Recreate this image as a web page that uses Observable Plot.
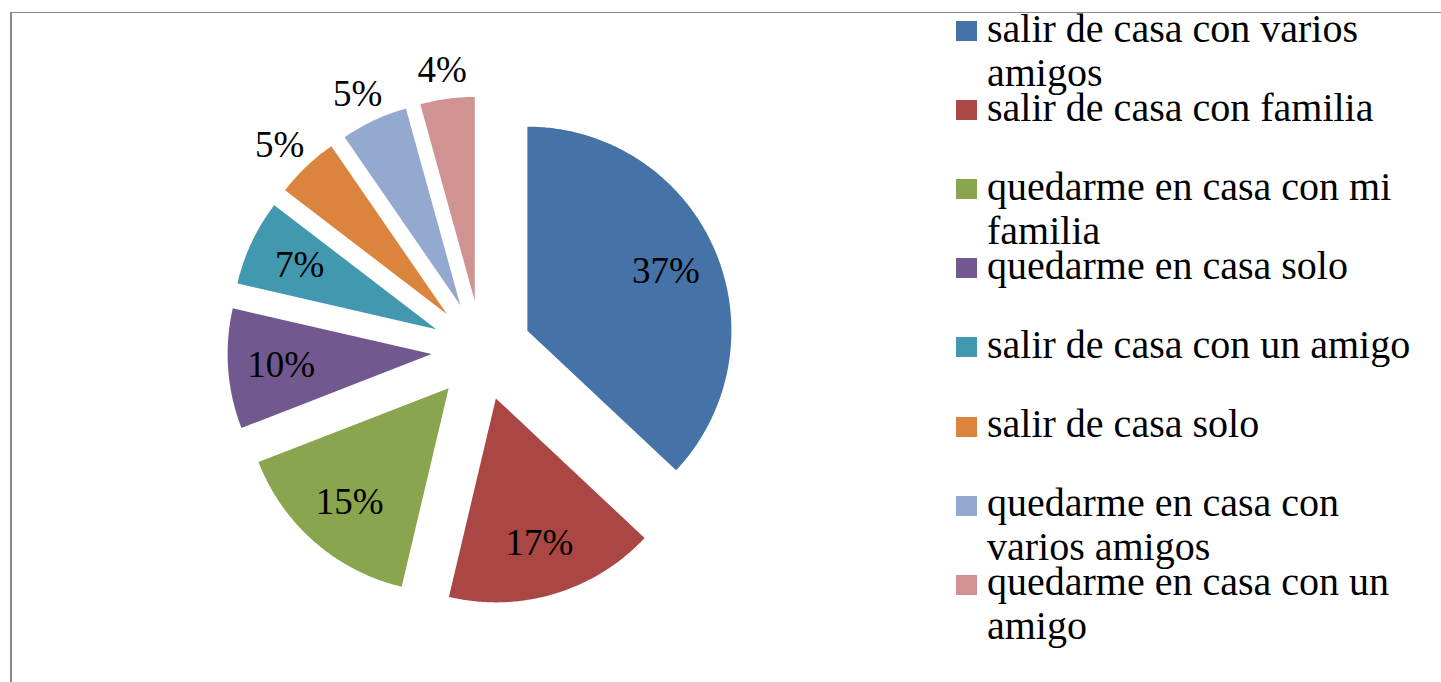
<!DOCTYPE html>
<html><head><meta charset="utf-8">
<script src="https://cdn.jsdelivr.net/npm/d3@7"></script>
<script src="https://cdn.jsdelivr.net/npm/@observablehq/plot@0.6"></script>
<style>
html,body{margin:0;padding:0;background:#fff;}
#wrap{position:relative;width:1441px;height:682px;overflow:hidden;font-family:"Liberation Serif",serif;}
#frame{position:absolute;left:10px;top:12px;width:1440px;height:680px;border-top:1.5px solid #8a8a8a;border-left:2px solid #8a8a8a;}
#chart{position:absolute;left:0;top:0;}
#legend{position:absolute;left:956px;top:0;}
.sw{position:absolute;left:0;width:21px;height:20px;}
.ln{position:absolute;left:31px;font-size:40px;line-height:34px;color:#000;white-space:nowrap;}
</style></head>
<body>
<div id="wrap"><div id="frame"></div><div id="chart"></div><div id="legend"></div></div>
<script>
const categories = [
  "salir de casa con varios amigos",
  "salir de casa con familia",
  "quedarme en casa con mi familia",
  "quedarme en casa solo",
  "salir de casa con un amigo",
  "salir de casa solo",
  "quedarme en casa con varios amigos",
  "quedarme en casa con un amigo"
];
const values = [37, 16.7, 15.4, 9.5, 6.8, 5.0, 5.3, 4.3];
const labels = ["37%", "17%", "15%", "10%", "7%", "5%", "5%", "4%"];
const colors = ["#4572A7", "#AA4643", "#89A54E", "#71588F", "#4198AF", "#DB843D", "#93A9CF", "#D19392"];

const W = 1441, H = 682, R = 204, CX = 481, CY = 350;
const E = 50 / R; // explosion in radius units

const arcs = d3.pie().sort(null).value(d => d)(values);
const pts = [];
const lab = [];
arcs.forEach((a, i) => {
  const mid = (a.startAngle + a.endAngle) / 2;
  const ux = Math.sin(mid), uy = Math.cos(mid);
  const ox = E * ux, oy = E * uy;
  pts.push({cat: categories[i], x: ox, y: oy});
  const n = Math.max(4, Math.ceil((a.endAngle - a.startAngle) / 0.01));
  for (let k = 0; k <= n; k++) {
    const ang = a.startAngle + (a.endAngle - a.startAngle) * k / n;
    pts.push({cat: categories[i], x: ox + Math.sin(ang), y: oy + Math.cos(ang)});
  }
  if (values[i] >= 6) {
    lab.push({x: ox + 0.74 * ux, y: oy + 0.74 * uy, text: labels[i]});
  } else {
    const d = E + 1 + 12 / R, w = 54 / R, h = 34 / R;
    lab.push({x: d * ux + ux * w / 2, y: d * uy + uy * h / 2, text: labels[i]});
  }
});

const chart = Plot.plot({
  width: W, height: H, margin: 0,
  style: {background: "transparent", overflow: "visible"},
  x: {domain: [-CX / R, (W - CX) / R], axis: null},
  y: {domain: [-(H - CY) / R, CY / R], axis: null},
  color: {domain: categories, range: colors},
  marks: [
    Plot.line(pts, {x: "x", y: "y", z: "cat", fill: "cat", stroke: null, curve: "linear-closed"}),
    Plot.text(lab, {x: "x", y: "y", text: "text", fontSize: 37, fontFamily: "Liberation Serif", fill: "#000"})
  ]
});
document.getElementById("chart").appendChild(chart);

// legend with word wrapping measured in the legend font
const ctx = document.createElement("canvas").getContext("2d");
ctx.font = '40px "Liberation Serif"';
const maxW = 432;
function wrap(s) {
  const words = s.split(" "), lines = [];
  let cur = "";
  for (const w of words) {
    const t = cur ? cur + " " + w : w;
    if (cur && ctx.measureText(t).width > maxW) { lines.push(cur); cur = w; }
    else cur = t;
  }
  if (cur) lines.push(cur);
  return lines;
}
const leg = document.getElementById("legend");
categories.forEach((c, i) => {
  const base = 42 + i * 79.1;
  const sw = document.createElement("div");
  sw.className = "sw";
  sw.style.top = (base - 21) + "px";
  sw.style.background = colors[i];
  leg.appendChild(sw);
  wrap(c).forEach((line, j) => {
    const ln = document.createElement("div");
    ln.className = "ln";
    ln.style.top = (base + j * 44 - 30.5) + "px";
    ln.textContent = line;
    leg.appendChild(ln);
  });
});
</script>
</body></html>
